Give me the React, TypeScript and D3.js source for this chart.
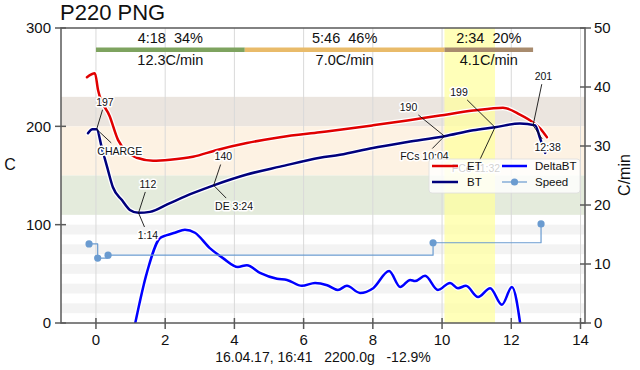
import React from 'react';
import * as d3 from 'd3';

const FONT = '"Liberation Sans", Arial, Helvetica, sans-serif';

// time axis in minutes after CHARGE
const etTime = [-0.26, -0.03, 0.06, 0.4, 0.64, 0.9, 1.18, 1.65, 2.14, 2.8, 3.5, 4.36, 5.32, 6.47, 7.05, 8.0, 9.0, 9.94, 10.9, 11.76, 12.25, 12.63, 12.83, 13.03];
const etTemp = [250, 254, 237, 210, 186, 174, 168, 165, 166, 169, 176, 183, 189, 194, 196.5, 201, 206, 211, 216, 219, 212, 204, 198, 189];

const btTime = [-0.23, -0.1, 0.02, 0.17, 0.32, 0.49, 0.75, 0.98, 1.23, 1.56, 2.14, 2.8, 3.4, 4.36, 5.32, 6.47, 7.05, 8.0, 9.0, 10.07, 10.9, 11.53, 12.25, 12.69, 12.83, 12.98];
const btTemp = [193, 197, 197, 178, 159, 138, 125, 115, 112, 113, 122, 132, 140, 151, 159, 168, 171, 178, 184, 190, 196, 199, 203, 201, 188, 173];

const rorTime = [1.1, 1.47, 1.85, 2.05, 2.28, 2.57, 2.86, 3.29, 3.67, 4.1, 4.36, 4.74, 5.23, 5.52, 5.95, 6.33, 6.68, 6.99, 7.25, 7.63, 8.01, 8.47, 8.79, 9.08, 9.22, 9.51, 9.88, 10.23, 10.46, 10.69, 11.04, 11.39, 11.73, 12.02, 12.28];
const rorVal = [-1, 8.5, 14.4, 14.9, 15.3, 15.8, 15.3, 12.7, 11.0, 9.5, 9.8, 8.5, 7.5, 7.3, 6.3, 6.8, 6.4, 5.6, 6.3, 5.1, 5.9, 8.8, 6.1, 7.3, 7.1, 8.0, 5.6, 6.8, 5.9, 6.3, 4.4, 5.9, 3.1, 6.1, -1];

const speedTime = [-0.2, 0.05, 0.35, 9.74, 12.86];
const speedVal = [13.4, 11.0, 11.5, 13.6, 16.8];

const phaseStart = [0, 4.3, 10.07];
const phaseEnd = [4.3, 10.07, 12.63];
const phaseTop = ['4:18  34%', '5:46  46%', '2:34  20%'];
const phaseRor = ['12.3C/min', '7.0C/min', '4.1C/min'];
const phaseColor = ['#7ea35f', '#e9bb6a', '#a88b6e'];

const bandLo = [200, 150, 110];
const bandHi = [230, 200, 150];
const bandColor = ['#ebe5df', '#fdf2e3', '#e4ebdc'];
const stripeLo = [90, 70, 50, 30, 10];

const xTicks = [0, 2, 4, 6, 8, 10, 12, 14];
const yTicks = [0, 100, 200, 300];
const y2Ticks = [0, 10, 20, 30, 40, 50];

// annotations: target (t, v) and text centre (tx, tv), all in C
const notes = [
  { text: '197', t: 0.02, v: 197, tx: 0.26, tv: 225 },
  { text: 'CHARGE', t: 0.02, v: 197, tx: 0.69, tv: 175 },
  { text: '112', t: 1.23, v: 112, tx: 1.5, tv: 141.4 },
  { text: '1:14', t: 1.23, v: 112, tx: 1.5, tv: 89.5 },
  { text: '140', t: 3.4, v: 140, tx: 3.68, tv: 169.3 },
  { text: 'DE 3:24', t: 3.4, v: 140, tx: 3.99, tv: 118.9 },
  { text: '190', t: 10.07, v: 190, tx: 9.03, tv: 219.7 },
  { text: 'FCs 10:04', t: 10.07, v: 190, tx: 9.49, tv: 169.3 },
  { text: '199', t: 11.53, v: 199, tx: 10.49, tv: 235 },
  { text: 'FCe 11:32', t: 11.53, v: 199, tx: 10.98, tv: 157.6 },
  { text: '201', t: 12.63, v: 201, tx: 12.93, tv: 251 },
  { text: '12:38', t: 12.63, v: 201, tx: 13.05, tv: 179 },
];

const fcsTime = 10.07;
const fceTime = 11.53;

const L = 61, R = 585, T = 28, B = 323;

export default function App() {
  const x = d3.scaleLinear().domain([-1.01, 14.13]).range([L, R]);
  const y = d3.scaleLinear().domain([0, 300]).range([B, T]);
  const y2 = d3.scaleLinear().domain([0, 50]).range([B, T]);

  const tempLine = d3.line<number>().x((_, i) => 0).curve(d3.curveMonotoneX);
  const et = d3.line<number>().x((d, i) => x(etTime[i])).y(d => y(d)).curve(d3.curveMonotoneX)(etTemp) || '';
  const bt = d3.line<number>().x((d, i) => x(btTime[i])).y(d => y(d)).curve(d3.curveMonotoneX)(btTemp) || '';
  const ror = d3.line<number>().x((d, i) => x(rorTime[i])).y(d => y2(d)).curve(d3.curveMonotoneX)(rorVal) || '';
  const speed = d3.line<number>().x((d, i) => x(speedTime[i])).y(d => y2(d)).curve(d3.curveStepAfter)(speedVal) || '';
  void tempLine;

  const axisCol = '#5a5a5a';
  const barY = y(278);

  return (
    <div style={{ position: 'absolute', left: 0, top: 0 }}>
      <svg width={640} height={370} style={{ display: 'block', background: '#fff' }} fontFamily={FONT}>
        <defs>
          <clipPath id="plot">
            <rect x={L} y={T} width={R - L} height={B - T} />
          </clipPath>
        </defs>

        {bandLo.map((lo, i) => (
          <rect key={'b' + i} x={L} width={R - L} y={y(bandHi[i])} height={y(lo) - y(bandHi[i])} fill={bandColor[i]} />
        ))}
        {stripeLo.map((lo, i) => (
          <rect key={'s' + i} x={L} width={R - L} y={y(lo + 10)} height={y(lo) - y(lo + 10)} fill="#f3f3f3" />
        ))}
        <rect x={x(fcsTime)} width={x(fceTime) - x(fcsTime)} y={T} height={B - T} fill="#ffff9e" opacity={0.72} />

        {xTicks.map(t => (
          <line key={'g' + t} x1={x(t)} x2={x(t)} y1={T} y2={B} stroke="#d9d9d9" strokeWidth={1} />
        ))}

        {phaseStart.map((s, i) => {
          const cx = (x(s) + x(phaseEnd[i])) / 2;
          return (
            <g key={'p' + i}>
              <line x1={x(s)} x2={x(phaseEnd[i])} y1={barY} y2={barY} stroke={phaseColor[i]} strokeWidth={4.5} />
              <text x={cx} y={barY - 6.5} textAnchor="middle" fontSize={14.5} fill="#111" style={{ whiteSpace: 'pre' }}>{phaseTop[i]}</text>
              <text x={cx} y={barY + 15.5} textAnchor="middle" fontSize={14.5} fill="#111">{phaseRor[i]}</text>
            </g>
          );
        })}

        <g clipPath="url(#plot)" fill="none" strokeLinejoin="round" strokeLinecap="round">
          <path d={ror} stroke="#fff" strokeWidth={5} />
          <path d={ror} stroke="#0000ff" strokeWidth={2.5} />
          <path d={et} stroke="#fff" strokeWidth={5} />
          <path d={et} stroke="#e00000" strokeWidth={2.5} />
          <path d={bt} stroke="#fff" strokeWidth={5} />
          <path d={bt} stroke="#00007c" strokeWidth={2.5} />
          <path d={speed} stroke="#6a9bd0" strokeWidth={1.2} />
          {speedTime.map((t, i) => (
            <circle key={'sp' + i} cx={x(t)} cy={y2(speedVal[i])} r={3.6} fill="#6a9bd0" />
          ))}
        </g>

        {notes.map((n, i) => {
          const px = x(n.t), py = y(n.v);
          const cx = x(n.tx), cy = y(n.tv);
          const dx = cx - px, dy = cy - py;
          const hw = n.text.length * 3 + 3, hh = 8;
          const f = Math.min(hw / Math.abs(dx || 1e-6), hh / Math.abs(dy || 1e-6));
          const ex = cx - f * dx, ey = cy - f * dy;
          return (
            <g key={'n' + i}>
              <line x1={px} y1={py} x2={ex} y2={ey} stroke="#111" strokeWidth={0.9} />
              <text x={cx} y={cy + 3.8} textAnchor="middle" fontSize={10.5} fill="#111" stroke="#fff" strokeWidth={3} paintOrder="stroke" strokeLinejoin="round">{n.text}</text>
            </g>
          );
        })}

        <g fontSize={11.5} fill="#111">
          <rect x={429} y={159} width={151} height={34} rx={3} fill="#fff" fillOpacity={0.8} stroke="#dddddd" strokeWidth={0.8} />
          <line x1={432} x2={458} y1={166} y2={166} stroke="#e00000" strokeWidth={2.5} />
          <text x={467} y={170}>ET</text>
          <line x1={502} x2={527} y1={166} y2={166} stroke="#0000ff" strokeWidth={2.5} />
          <text x={535} y={170}>DeltaBT</text>
          <line x1={432} x2={458} y1={182} y2={182} stroke="#00007c" strokeWidth={2.5} />
          <text x={467} y={186}>BT</text>
          <line x1={502} x2={527} y1={182} y2={182} stroke="#6a9bd0" strokeWidth={1.2} />
          <circle cx={514.5} cy={182} r={3.6} fill="#6a9bd0" />
          <text x={535} y={186}>Speed</text>
        </g>

        <rect x={L} y={T} width={R - L} height={B - T} fill="none" stroke={axisCol} strokeWidth={1.5} />

        {yTicks.map(v => (
          <g key={'yt' + v}>
            <line x1={L - 6} x2={L + 5} y1={y(v)} y2={y(v)} stroke={axisCol} strokeWidth={1.5} />
            <text x={L - 10} y={y(v) + 5.3} textAnchor="end" fontSize={15} fill="#111">{v}</text>
          </g>
        ))}
        {y2Ticks.map(v => (
          <g key={'y2t' + v}>
            <line x1={R - 5} x2={R + 6} y1={y2(v)} y2={y2(v)} stroke={axisCol} strokeWidth={1.5} />
            <text x={R + 9} y={y2(v) + 5.3} textAnchor="start" fontSize={15} fill="#111">{v}</text>
          </g>
        ))}
        {xTicks.map(t => (
          <g key={'xt' + t}>
            <line x1={x(t)} x2={x(t)} y1={B - 5} y2={B + 6} stroke={axisCol} strokeWidth={1.5} />
            <text x={x(t)} y={B + 22} textAnchor="middle" fontSize={15} fill="#111">{t}</text>
          </g>
        ))}

        <text x={60} y={20} fontSize={22} fill="#111">P220 PNG</text>
        <text x={10} y={170} textAnchor="middle" fontSize={16} fill="#111">C</text>
        <text transform={`translate(630,175) rotate(-90)`} textAnchor="middle" fontSize={16} fill="#111">C/min</text>
        <text x={323} y={362} textAnchor="middle" fontSize={14} fill="#111" style={{ whiteSpace: 'pre' }}>16.04.17, 16:41   2200.0g   -12.9%</text>
      </svg>
    </div>
  );
}
